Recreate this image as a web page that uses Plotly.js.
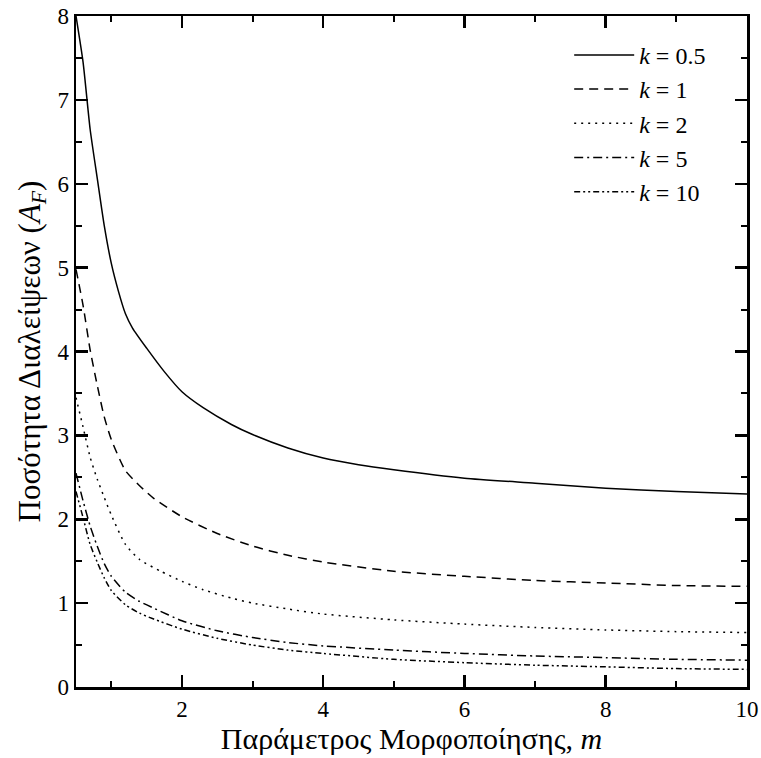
<!DOCTYPE html>
<html>
<head>
<meta charset="utf-8">
<script src="https://cdn.plot.ly/plotly-3.0.1.min.js"></script>
<style>
html,body{margin:0;padding:0;background:#fff;}
#chart{width:761px;height:758px;}
</style>
</head>
<body>
<div id="chart"></div>
<script>
// m values and A_F values
const m_k05 = [0.5, 0.6, 0.7, 0.8, 0.9, 1.0, 1.1, 1.2, 1.3, 1.5, 1.75, 2.0, 2.3, 2.7, 3.0, 3.5, 4, 4.5, 5, 6, 7, 8, 9, 10];
const A_k05 = [8.0, 7.45, 6.65, 6.07, 5.5, 5.05, 4.72, 4.45, 4.28, 4.04, 3.76, 3.52, 3.33, 3.13, 3.01, 2.85, 2.73, 2.65, 2.59, 2.49, 2.43, 2.37, 2.33, 2.30];

const m_k1 = [0.5, 0.6, 0.7, 0.8, 0.9, 1.0, 1.2, 1.4, 1.6, 2.0, 2.5, 3.0, 3.5, 4, 5, 6, 7, 8, 9, 10];
const A_k1 = [4.98, 4.55, 4.02, 3.60, 3.22, 2.95, 2.58, 2.40, 2.25, 2.03, 1.83, 1.68, 1.57, 1.49, 1.38, 1.32, 1.27, 1.24, 1.21, 1.20];

const m_k2 = [0.5, 0.6, 0.7, 0.8, 0.9, 1.0, 1.2, 1.4, 1.7, 2.0, 2.3, 2.7, 3.0, 3.5, 4, 5, 6, 7, 8, 9, 10];
const A_k2 = [3.45, 3.10, 2.74, 2.48, 2.26, 2.05, 1.70, 1.52, 1.38, 1.26, 1.16, 1.06, 1.00, 0.93, 0.87, 0.80, 0.75, 0.71, 0.68, 0.66, 0.65];

const m_k5 = [0.5, 0.6, 0.7, 0.8, 0.9, 1.0, 1.2, 1.4, 1.6, 2.0, 2.5, 3.0, 3.5, 4, 5, 6, 7, 8, 9, 10];
const A_k5 = [2.55, 2.22, 1.92, 1.68, 1.47, 1.32, 1.13, 1.02, 0.94, 0.79, 0.67, 0.59, 0.53, 0.49, 0.44, 0.40, 0.37, 0.35, 0.33, 0.32];

const m_k10 = [0.5, 0.6, 0.7, 0.8, 0.9, 1.0, 1.2, 1.4, 1.6, 2.0, 2.5, 3.0, 3.5, 4, 5, 6, 7, 8, 9, 10];
const A_k10 = [2.33, 2.02, 1.70, 1.49, 1.30, 1.15, 0.98, 0.88, 0.81, 0.69, 0.58, 0.50, 0.44, 0.40, 0.33, 0.29, 0.26, 0.24, 0.22, 0.21];

const seriesNames = ['<i>k</i> = 0.5', '<i>k</i> = 1', '<i>k</i> = 2', '<i>k</i> = 5', '<i>k</i> = 10'];
const xTitle = 'Παράμετρος Μορφοποίησης, <i>m</i>';
const yTitle = 'Ποσότητα Διαλείψεων (<i>A</i><sub><i>F</i></sub>)';

const dashes = ['solid', '9px,6px', '2px,5px', '9px,4px,2px,4px', '6px,3px,2px,3px,2px,3px'];
const xs = [m_k05, m_k1, m_k2, m_k5, m_k10];
const ys = [A_k05, A_k1, A_k2, A_k5, A_k10];

const traces = xs.map((x, i) => ({
  x: x, y: ys[i], type: 'scatter', mode: 'lines',
  name: seriesNames[i], legendgroup: 'g' + i,
  line: {color: '#000', width: 1.5, dash: dashes[i], shape: 'spline', smoothing: 0.6}
}));

const font = 'Liberation Serif';
const axisCommon = {
  showline: true, linecolor: '#000', linewidth: 2.5, mirror: 'ticks',
  ticks: 'inside', ticklen: 12, tickwidth: 2.5, tickcolor: '#000',
  showgrid: false, zeroline: false,
  tickfont: {family: font, size: 23, color: '#000'}
};

const layout = {
  width: 761, height: 758,
  margin: {l: 76, r: 14, t: 16, b: 71},
  paper_bgcolor: '#fff', plot_bgcolor: '#fff',
  font: {family: font, color: '#000'},
  showlegend: true,
  legend: {
    x: 0.735, y: 0.975, xanchor: 'left', yanchor: 'top',
    bgcolor: 'rgba(0,0,0,0)', borderwidth: 0,
    font: {family: font, size: 24, color: '#000'},
    tracegroupgap: 0, itemwidth: 60
  },
  xaxis: Object.assign({}, axisCommon, {
    range: [0.5, 10], tick0: 0, dtick: 2,
    minor: {dtick: 1, ticklen: 6, tickwidth: 2, tickcolor: '#000', ticks: 'inside', showgrid: false},
    title: {text: xTitle, font: {family: font, size: 30, color: '#000'}, standoff: 4}
  }),
  yaxis: Object.assign({}, axisCommon, {
    range: [0, 8], tick0: 0, dtick: 1,
    minor: {dtick: 0.5, ticklen: 6, tickwidth: 2, tickcolor: '#000', ticks: 'inside', showgrid: false},
    title: {text: yTitle, font: {family: font, size: 31, color: '#000'}, standoff: 8}
  })
};

Plotly.newPlot('chart', traces, layout, {displayModeBar: false, staticPlot: true});
</script>
</body>
</html>
